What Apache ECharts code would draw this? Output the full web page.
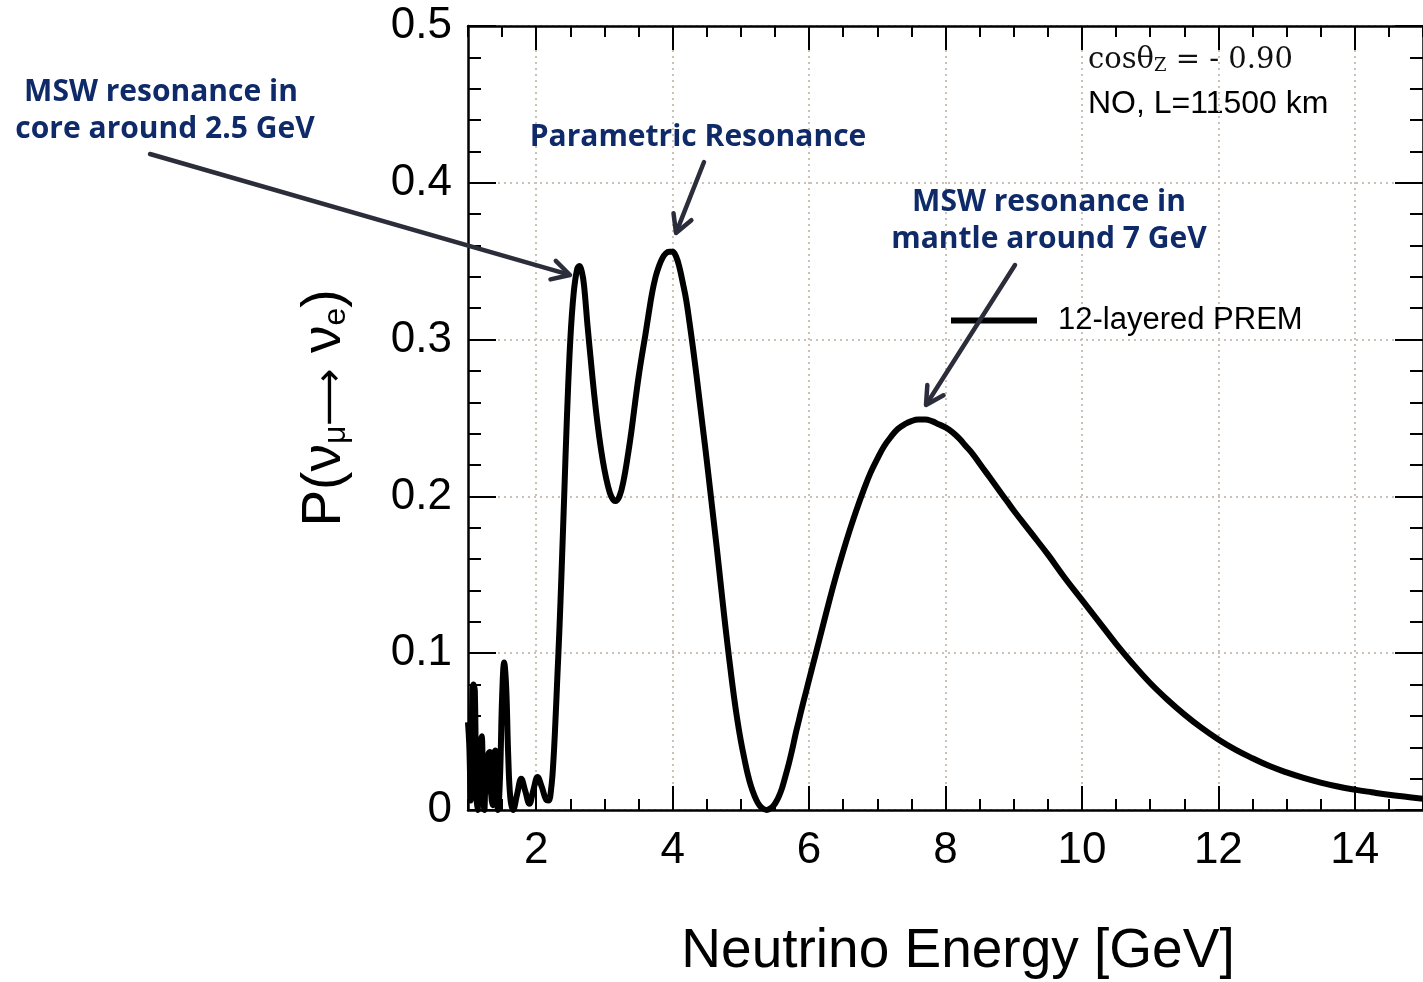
<!DOCTYPE html>
<html><head><meta charset="utf-8">
<script src="https://cdn.jsdelivr.net/npm/echarts@6/dist/echarts.min.js"></script>
<style>html,body{margin:0;padding:0;background:#fff}#c{width:1423px;height:982px}</style>
</head><body><div id="c"></div>
<script>
// ---- data ----
const energy = [1.00,1.02,1.04,1.06,1.08,1.10,1.12,1.14,1.16,1.18,1.20,1.22,1.24,1.26,1.28,1.30,1.32,1.34,1.36,1.38,1.40,1.42,1.44,1.47,1.50,1.53,1.56,1.59,1.62,1.66,1.72,1.78,1.84,1.90,1.96,2.02,2.08,2.14,2.18,2.22,2.25,2.28,2.31,2.34,2.37,2.41,2.45,2.50,2.55,2.60,2.635,2.67,2.70,2.75,2.80,2.85,2.90,2.95,3.00,3.05,3.10,3.16,3.22,3.28,3.35,3.40,3.45,3.50,3.55,3.60,3.65,3.70,3.75,3.80,3.85,3.90,3.95,4.00,4.05,4.10,4.15,4.20,4.25,4.30,4.35,4.40,4.45,4.50,4.55,4.60,4.65,4.70,4.75,4.80,4.85,4.90,4.95,5.00,5.05,5.10,5.15,5.20,5.25,5.30,5.38,5.45,5.50,5.55,5.60,5.65,5.70,5.75,5.80,5.85,5.90,5.95,6.00,6.10,6.20,6.30,6.40,6.50,6.60,6.70,6.80,6.90,7.00,7.10,7.20,7.30,7.40,7.50,7.60,7.70,7.80,7.90,8.00,8.10,8.20,8.30,8.40,8.50,8.60,8.70,8.80,8.90,9.00,9.25,9.50,9.75,10.00,10.25,10.50,10.75,11.00,11.25,11.50,11.75,12.00,12.25,12.50,12.75,13.00,13.25,13.50,13.75,14.00,14.25,14.50,14.75,15.00];
const prob = [0.056,0.040,0.006,0.062,0.080,0.076,0.012,0.000,0.028,0.042,0.047,0.018,0.000,0.024,0.012,0.036,0.037,0.010,0.003,0.035,0.038,0.016,0.000,0.022,0.072,0.094,0.078,0.034,0.008,0.000,0.010,0.020,0.012,0.004,0.013,0.021,0.015,0.007,0.006,0.014,0.030,0.055,0.085,0.115,0.150,0.200,0.250,0.300,0.330,0.345,0.347,0.343,0.335,0.310,0.287,0.265,0.246,0.230,0.217,0.207,0.200,0.197,0.200,0.210,0.228,0.243,0.260,0.276,0.290,0.303,0.317,0.330,0.340,0.347,0.352,0.355,0.356,0.356,0.353,0.346,0.336,0.325,0.310,0.294,0.277,0.259,0.241,0.223,0.204,0.185,0.166,0.146,0.126,0.107,0.089,0.072,0.057,0.044,0.033,0.023,0.015,0.0090,0.0045,0.0017,0.000,0.0015,0.004,0.008,0.0135,0.021,0.029,0.038,0.048,0.057,0.066,0.0745,0.083,0.100,0.117,0.134,0.150,0.165,0.179,0.192,0.204,0.215,0.224,0.232,0.238,0.243,0.246,0.248,0.249,0.249,0.248,0.246,0.244,0.241,0.237,0.232,0.227,0.221,0.215,0.209,0.203,0.197,0.191,0.177,0.163,0.148,0.134,0.120,0.106,0.093,0.081,0.0705,0.061,0.0525,0.045,0.0385,0.033,0.028,0.024,0.0205,0.0175,0.015,0.013,0.0113,0.0097,0.0084,0.0072];
const xTickValues = [2,4,6,8,10,12,14];
const yTickLabels = ['0','0.1','0.2','0.3','0.4','0.5'];
const seriesName = '12-layered PREM';
const xRange = [1, 15];
const yRange = [0, 0.5];

const chart = echarts.init(document.getElementById('c'));
const FONT = '"Liberation Sans", Arial, Helvetica, sans-serif';
const gridStyle = { color: '#cbc1b6', width: 2, type: [2, 4] };

function xAxisCfg(pos, major, withLabels) {
  const c = {
    type: 'value', position: pos, min: xRange[0], max: xRange[1],
    axisLine: { show: major, lineStyle: { color: '#000', width: 2.5 } },
    splitLine: { show: false },
    axisLabel: { show: false }
  };
  if (major) {
    c.axisTick = { show: true, inside: true, length: 24, customValues: xTickValues, lineStyle: { color: '#000', width: 2 } };
    if (withLabels) {
      c.axisLabel = { show: true, customValues: xTickValues, fontSize: 44, fontFamily: FONT, color: '#000', margin: 19 };
      c.splitLine = { show: true, lineStyle: gridStyle };
    }
  } else {
    c.interval = 0.5;
    c.axisTick = { show: true, inside: true, length: 11, lineStyle: { color: '#000', width: 2 } };
  }
  return c;
}
function yAxisCfg(pos, withLabels) {
  return {
    type: 'value', position: pos, min: yRange[0], max: yRange[1], interval: 0.1,
    axisLine: { show: true, lineStyle: { color: '#000', width: 2.5 } },
    axisTick: { show: true, inside: true, length: 28, lineStyle: { color: '#000', width: 2 } },
    minorTick: { show: true, splitNumber: 5, length: 13, lineStyle: { color: '#000', width: 2 } },
    splitLine: { show: withLabels, lineStyle: gridStyle },
    axisLabel: withLabels ? { show: true, fontSize: 44, fontFamily: FONT, color: '#000', margin: 16,
      formatter: v => yTickLabels[Math.round(v * 10)] } : { show: false }
  };
}

function arrow(x1, y1, x2, y2) {
  const ang = Math.atan2(y2 - y1, x2 - x1);
  const L = 20, a = 0.5;
  const p1 = [x2 - L * Math.cos(ang - a), y2 - L * Math.sin(ang - a)];
  const p2 = [x2 - L * Math.cos(ang + a), y2 - L * Math.sin(ang + a)];
  const st = { stroke: '#2b2d3a', lineWidth: 4.5, lineCap: 'round', lineJoin: 'round', fill: null };
  return [
    { type: 'line', shape: { x1, y1, x2: x2 - 2 * Math.cos(ang), y2: y2 - 2 * Math.sin(ang) }, style: st, z: 100 },
    { type: 'polyline', shape: { points: [p1, [x2, y2], p2] }, style: st, z: 100 }
  ];
}
const annFont = { fontFamily: '"Open Sans", "Noto Sans", sans-serif', fontWeight: 'bold', fontSize: 30, fill: '#0f2a68' };
function ann(text, x, y) {
  return { type: 'text', x, y, z: 100, style: Object.assign({ text, textAlign: 'center', textVerticalAlign: 'middle' }, annFont) };
}

const option = {
  animation: false,
  backgroundColor: '#fff',
  grid: { left: 468, right: -10, top: 26, bottom: 172 },
  xAxis: [xAxisCfg('bottom', true, true), xAxisCfg('bottom', false), xAxisCfg('top', true, false), xAxisCfg('top', false)],
  yAxis: [yAxisCfg('left', true), yAxisCfg('right', false)],
  legend: {
    data: [seriesName], left: 951, top: 305, padding: 0, icon: 'rect', itemWidth: 86, itemHeight: 6,
    textStyle: { fontSize: 31, fontFamily: FONT, color: '#000', padding: [0, 0, 0, 16] },
    itemStyle: { color: '#000' }
  },
  series: [{
    name: seriesName, type: 'line', xAxisIndex: 0, yAxisIndex: 0,
    data: energy.map((e, i) => [e, prob[i]]),
    showSymbol: false, smooth: 0.4, clip: true,
    lineStyle: { color: '#000', width: 6, join: 'round' }, itemStyle: { color: '#000' }
  }],
  graphic: [
    { type: 'text', x: 958, y: 952, style: { text: 'Neutrino Energy [GeV]', fontSize: 55, fontFamily: FONT, fill: '#000', textAlign: 'center', textVerticalAlign: 'middle' } },
    { type: 'text', x: 320, y: 408, rotation: Math.PI / 2,
      style: { text: '{m|P(ν}{s|μ}{a|⟶}{m| ν}{s|e}{m|)}', textAlign: 'center', textVerticalAlign: 'middle', fill: '#000',
        rich: { m: { fontSize: 55, fontFamily: FONT, lineHeight: 64, verticalAlign: 'bottom', fill: '#000' },
                a: { fontSize: 40, fontFamily: '"DejaVu Sans", sans-serif', lineHeight: 64, verticalAlign: 'bottom', fill: '#000' },
                s: { fontSize: 32, fontFamily: FONT, lineHeight: 24, verticalAlign: 'bottom', fill: '#000' } } } },
    { type: 'text', x: 1088, y: 57,
      style: { text: '{a|cosθ}{b|Z}{a| = - 0.90}', textAlign: 'left', textVerticalAlign: 'middle', fill: '#111',
        rich: { a: { fontSize: 29, fontFamily: '"DejaVu Serif", serif', lineHeight: 36, verticalAlign: 'bottom', fill: '#111' },
                b: { fontSize: 18, fontFamily: '"DejaVu Serif", serif', lineHeight: 14, verticalAlign: 'bottom', fill: '#111' } } } },
    { type: 'text', x: 1088, y: 104, style: { text: 'NO, L=11500 km', fontSize: 32, fontFamily: FONT, fill: '#000', textAlign: 'left', textVerticalAlign: 'middle' } },
    ann('MSW resonance in', 161, 92),
    ann('core around 2.5 GeV', 165, 129),
    ann('Parametric Resonance', 698, 137),
    ann('MSW resonance in', 1049, 202),
    ann('mantle around 7 GeV', 1049, 239),
    ...arrow(150, 154, 570, 275),
    ...arrow(704, 162, 676, 233),
    ...arrow(1015, 265, 926, 405)
  ]
};
chart.setOption(option);
</script></body></html>
